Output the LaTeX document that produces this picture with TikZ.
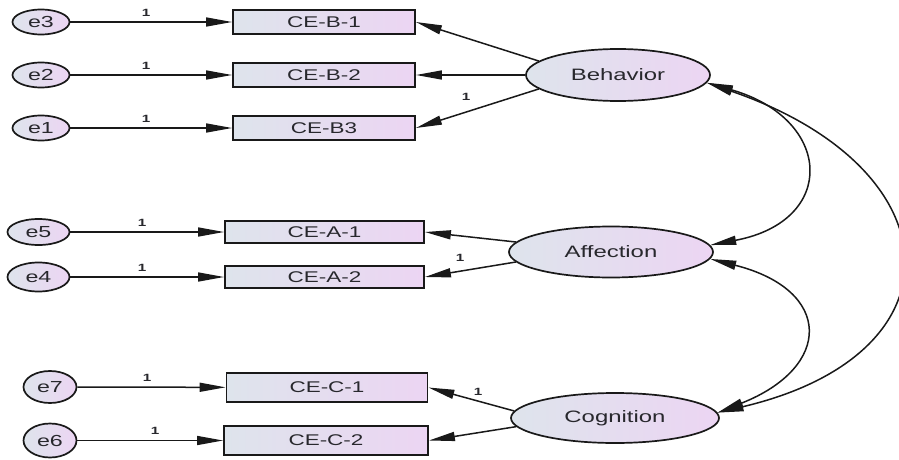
\documentclass[tikz,border=0pt]{standalone}
\usepackage{fontspec}
\setmainfont{Liberation Sans}
\newfontfamily\wfont[FakeStretch=1.45]{Liberation Sans}
\usetikzlibrary{shapes.geometric,arrows.meta}
\definecolor{lc}{RGB}{222,228,236}
\definecolor{rc}{RGB}{236,213,243}
\definecolor{ln}{RGB}{25,25,25}
\definecolor{tx}{RGB}{40,40,45}
\tikzset{
 obs/.style={draw=ln, line width=1.8pt, left color=lc, right color=rc, minimum width=182pt, minimum height=24pt, inner sep=0pt, text=tx, font=\wfont\fontsize{15.5}{16}\selectfont},
 lat/.style={ellipse, draw=ln, line width=1.7pt, left color=lc, right color=rc, inner sep=0pt, text=tx, font=\wfont\fontsize{16.5}{17}\selectfont},
 err/.style={ellipse, draw=ln, line width=1.7pt, left color=lc, right color=rc, inner sep=0pt, text=tx, font=\wfont\fontsize{16}{17}\selectfont},
 arr/.style={draw=ln, line width=1.5pt, -{Triangle[length=26pt,width=9pt]}},
 cov/.style={draw=ln, line width=1.5pt, {Triangle[length=26pt,width=9pt]}-{Triangle[length=26pt,width=9pt]}},
 one/.style={inner sep=0pt, text=tx, font=\wfont\bfseries\fontsize{10.5}{11}\selectfont}
}
\begin{document}
\begin{tikzpicture}[x=1pt,y=-1pt]
\useasboundingbox (0,0) rectangle (899,460);
% observed
\node[obs] (b1) at (324,22) {CE-B-1};
\node[obs] (b2) at (324,75) {CE-B-2};
\node[obs] (b3) at (324,128) {CE-B3};
\node[obs, minimum width=199pt, minimum height=22pt] (a1) at (324.5,232) {CE-A-1};
\node[obs, minimum width=199pt, minimum height=22pt] (a2) at (324.5,277) {CE-A-2};
\node[obs, minimum width=201pt, minimum height=29pt] (c1) at (327,387.5) {CE-C-1};
\node[obs, minimum width=204pt, minimum height=29pt] (c2) at (326,440.5) {CE-C-2};
% errors
\node[err, minimum width=57pt, minimum height=25pt] (e3) at (41,22) {e3};
\node[err, minimum width=57pt, minimum height=25pt] (e2) at (41,75) {e2};
\node[err, minimum width=57pt, minimum height=25pt] (e1) at (41,128) {e1};
\node[err, minimum width=62pt, minimum height=26pt] (e5) at (38.5,232) {e5};
\node[err, minimum width=62pt, minimum height=29pt] (e4) at (38.5,277) {e4};
\node[err, minimum width=53pt, minimum height=32pt] (e7) at (50,387) {e7};
\node[err, minimum width=53pt, minimum height=34pt] (e6) at (50,440.5) {e6};
% latents
\node[lat, minimum width=184pt, minimum height=52pt] (beh) at (618,75) {Behavior};
\node[lat, minimum width=204pt, minimum height=51pt] (aff) at (611,252) {Affection};
\node[lat, minimum width=208pt, minimum height=50pt] (cog) at (615,418) {Cognition};
% error paths
\draw[arr] (e3) -- (b1);
\draw[arr] (e2) -- (b2);
\draw[arr] (e1) -- (b3);
\draw[arr] (e5) -- (a1);
\draw[arr] (e4) -- (a2);
\draw[arr] (e7) -- (c1);
\draw[arr] (e6) -- (c2);
\node[one] (l1) at (146,13) {1};
\node[one] (l2) at (146,66) {1};
\node[one] (l3) at (146,119) {1};
\node[one] (l4) at (142,223) {1};
\node[one] (l5) at (142,268) {1};
\node[one] (l6) at (147,378) {1};
\node[one] (l7) at (155,431) {1};
% loadings
\draw[arr] (beh.170) -- (b1.east);
\draw[arr] (beh.180) -- (b2.east);
\draw[arr] (beh.190) -- (b3.east);
\draw[arr] (aff.174) -- (a1.east);
\draw[arr] (aff.186) -- (a2.east);
\draw[arr] (cog.176) -- (c1.east);
\draw[arr] (cog.185) -- (c2.east);
\node[one] (l8) at (466,97) {1};
\node[one] (l9) at (460,258) {1};
\node[one] (l10) at (478,392) {1};
% covariances
\draw[cov] (beh.-5) .. controls (833,119) and (838,221) .. (aff.4);
\draw[cov] (aff.-4) .. controls (833,290) and (833,367) .. (cog.3);
\draw[cov] (beh.-5) .. controls (955,168) and (967,354) .. (cog.3);
\end{tikzpicture}
\end{document}
